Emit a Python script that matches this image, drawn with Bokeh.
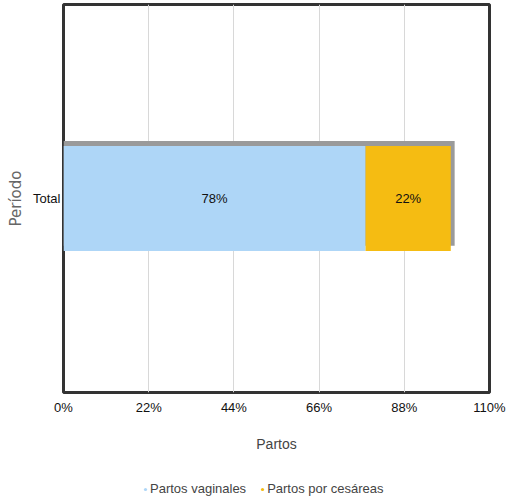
from bokeh.plotting import figure
from bokeh.layouts import column
from bokeh.models import (Range1d, FactorRange, Legend, LegendItem, ColumnDataSource,
                          FixedTicker, CustomJSTickFormatter)
from bokeh.core.properties import value
from bokeh.transform import dodge
from bokeh.embed import file_html
from bokeh.resources import INLINE

categories = ["Total"]
series_names = ["Partos vaginales", "Partos por cesáreas"]
vaginales = [78]
cesareas = [22]
colors = ["#AED6F7", "#F5BC12"]
x_ticks = [0, 22, 44, 66, 88, 110]

FONT = "Liberation Sans"

p = figure(y_range=FactorRange(*categories), x_range=Range1d(0, 110),
           output_backend="svg", toolbar_location=None,
           frame_width=426, frame_height=388, min_border_top=4, min_border_left=63,
           min_border_right=18, min_border_bottom=60)

src = ColumnDataSource(dict(cat=categories, v=vaginales, c=cesareas,
                            total=[a + b for a, b in zip(vaginales, cesareas)],
                            mid_v=[a / 2 for a in vaginales],
                            mid_c=[a + b / 2 for a, b in zip(vaginales, cesareas)],
                            lab_v=[f"{a}%" for a in vaginales],
                            lab_c=[f"{b}%" for b in cesareas]))

# shadow
p.hbar(y=dodge("cat", 0.013, range=p.y_range), left=0, right=dodge("total", 1.0), height=0.27,
       source=src, fill_color="#9a9a9a", line_color=None)
p.hbar(y="cat", left=0, right="v", height=0.27, source=src, fill_color=colors[0], line_color=None)
p.hbar(y="cat", left="v", right="total", height=0.27, source=src, fill_color=colors[1], line_color=None)

for xcol, lcol in (("mid_v", "lab_v"), ("mid_c", "lab_c")):
    p.text(x=xcol, y="cat", text=lcol, source=src, text_align="center",
           text_baseline="middle", text_font=value(FONT), text_font_size="13px",
           text_color="#111")

p.outline_line_color = "#333333"
p.outline_line_width = 3
p.ygrid.grid_line_color = None
p.xgrid.grid_line_color = "#d8d8d8"
p.xaxis.ticker = FixedTicker(ticks=x_ticks)
p.xaxis.formatter = CustomJSTickFormatter(code="return tick + '%';")
for ax in (p.xaxis[0], p.yaxis[0]):
    ax.axis_line_color = None
    ax.major_tick_line_color = None
    ax.minor_tick_line_color = None
    ax.major_tick_out = 0
    ax.minor_tick_out = 0
    ax.major_label_text_font = FONT
    ax.major_label_text_font_size = "13px"
    ax.major_label_text_color = "#111"
p.xaxis.major_label_standoff = 7
p.xaxis.axis_label = "Partos"
p.xaxis.axis_label_text_font = FONT
p.xaxis.axis_label_text_font_size = "14px"
p.xaxis.axis_label_text_font_style = "normal"
p.xaxis.axis_label_standoff = 18
p.yaxis.axis_label = "Período"
p.yaxis.axis_label_text_font = "DejaVu Sans"
p.yaxis.axis_label_text_font_size = "15px"
p.yaxis.axis_label_text_font_style = "normal"
p.yaxis.axis_label_text_color = "#666666"
p.yaxis.major_label_standoff = 3
p.yaxis.axis_label_standoff = 5

# legend in its own strip below the chart (marker points lie outside the strip's view)
lg = figure(width=507, height=46, x_range=Range1d(0, 1), y_range=Range1d(0, 1),
            x_axis_type=None, y_axis_type=None, output_backend="svg",
            toolbar_location=None, min_border=0, outline_line_color=None)
lg.grid.grid_line_color = None
r1 = lg.scatter(x=[-5], y=[-5], marker="circle", size=7, fill_color=colors[0], line_color=None)
r2 = lg.scatter(x=[-5], y=[-5], marker="circle", size=7, fill_color=colors[1], line_color=None)
legend = Legend(items=[LegendItem(label=series_names[0], renderers=[r1]),
                       LegendItem(label=series_names[1], renderers=[r2])],
                orientation="horizontal", location=(78, 4), border_line_color=None,
                background_fill_alpha=0,
                label_text_font=FONT, label_text_font_size="13px", glyph_width=8,
                glyph_height=12, label_standoff=1, spacing=12, padding=2, margin=0,
                label_height=14)
lg.add_layout(legend, "center")

open("out.html", "w").write(file_html(column(p, lg), INLINE))
